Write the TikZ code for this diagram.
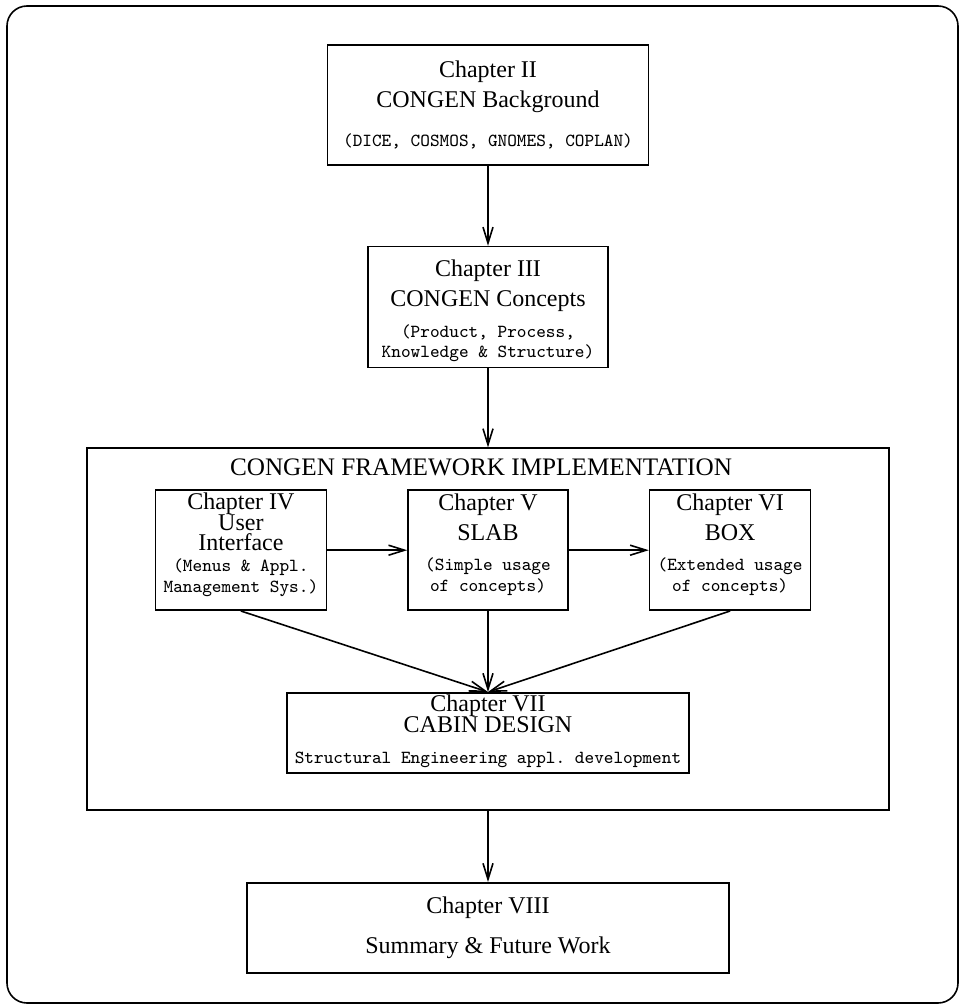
\documentclass[tikz,border=0pt]{standalone}
\usepackage{fontspec}
\setmainfont{Liberation Serif}
\usetikzlibrary{arrows.meta, positioning}

\newcommand{\mono}{\fontsize{9.2}{10}\selectfont\ttfamily}
\newcommand{\hgt}[1]{\rule{0pt}{#1}}
\newcommand{\dpt}[1]{\rule[-#1]{0pt}{#1}}

\begin{document}
\begin{tikzpicture}[
  x=0.5pt, y=-0.5pt,
  chap/.style    ={draw, line width=0.8pt, inner sep=0pt, align=center,
                   font={\fontsize{12}{#1}\selectfont\lineskiplimit=-20pt}},
  chap/.default  =15,
  fw/.style      ={draw, line width=0.8pt, inner sep=0pt},
  flow/.style    ={-{Straight Barb[length=8pt, width=5pt]}, line width=0.8pt},
  pageframe/.style={line width=0.8pt, rounded corners=10pt},
]
\useasboundingbox (0,0) rectangle (961,1006);
\draw[pageframe] (7,6) rectangle (958,1003);

\node[chap, minimum width=160.5pt, minimum height=60pt] (ch2) at (488,105)
     {Chapter II\\CONGEN Background\\[4.5pt]
      {\mono (DICE, COSMOS, GNOMES, COPLAN)}};
\node[chap, below=40pt of ch2, minimum width=120pt, minimum height=60.5pt] (ch3)
     {\hgt{12.3pt}Chapter III\\CONGEN Concepts\\[0.5pt]
      {\mono (Product, Process,}\\[-5pt]
      {\mono Knowledge \& Structure)}};

\node[fw, below=39.5pt of ch3, minimum width=401pt, minimum height=181pt] (impl) {};
\node[font=\fontsize{12.6}{15}\selectfont, anchor=base, xshift=-3.5pt, yshift=-14pt]
     (impltitle) at (impl.north) {CONGEN FRAMEWORK IMPLEMENTATION};

\node[chap, below=21pt of impl.north, minimum width=80pt, minimum height=60pt] (ch5)
     {Chapter V\\SLAB\\{\mono (Simple usage}\\[-4.5pt]
      {\mono of concepts)\dpt{7.7pt}}};
\node[chap=10.3, left=40pt of ch5, minimum width=85.5pt, minimum height=60pt] (ch4)
     {Chapter IV\\User\\Interface\\[0.2pt]
      {\mono (Menus \& Appl.}\\{\mono Management Sys.)\dpt{7.7pt}}};
\node[chap, right=40pt of ch5, minimum width=80.5pt, minimum height=60pt] (ch6)
     {Chapter VI\\BOX\\{\mono (Extended usage}\\[-4.5pt]
      {\mono of concepts)\dpt{7.7pt}}};
\node[chap=10.5, below=40.5pt of ch5, minimum width=201pt, minimum height=40pt] (ch7)
     {Chapter VII\\CABIN DESIGN\\[5pt]
      {\mono Structural Engineering appl.\ development\dpt{4pt}}};

\node[chap=20, below=35.5pt of impl, minimum width=241pt, minimum height=45pt] (ch8)
     {Chapter VIII\\Summary \& Future Work};

\draw[flow] (ch2) -- (ch3);
\draw[flow] (ch3) -- (impl);
\draw[flow] (ch4) -- (ch5);
\draw[flow] (ch5) -- (ch6);
\draw[flow] (ch4.south) -- (ch7.north);
\draw[flow] (ch5) -- (ch7);
\draw[flow] (ch6.south) -- (ch7.north);
\draw[flow] (impl) -- (ch8);

\end{tikzpicture}
\end{document}
